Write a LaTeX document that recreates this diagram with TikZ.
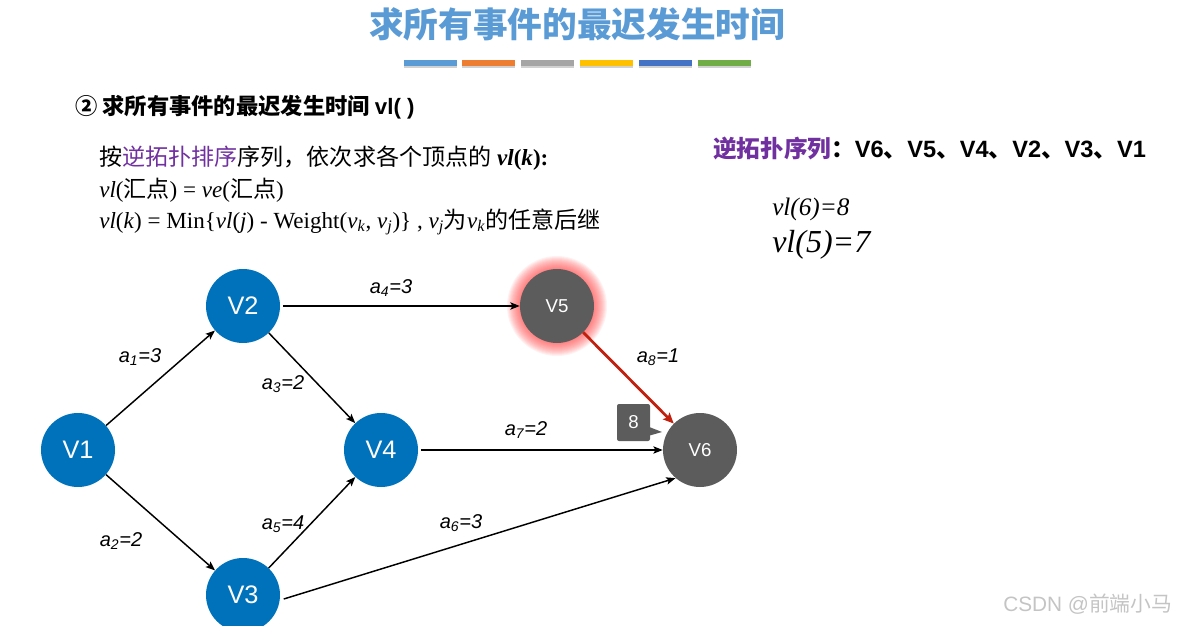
\documentclass[tikz,border=0pt]{standalone}
\usepackage{fontspec}
\setmainfont{Liberation Serif}
\setsansfont{Liberation Sans}
\newfontfamily\cjk{Noto Sans CJK SC}
\usetikzlibrary{arrows.meta}
\definecolor{titleblue}{HTML}{5B9BD5}
\definecolor{purp}{HTML}{7030A0}
\definecolor{nodeblue}{HTML}{0072BB}
\definecolor{nodegray}{HTML}{5C5C5C}
\definecolor{redarrow}{HTML}{C0200E}
\definecolor{barA}{HTML}{5B9BD5}
\definecolor{barB}{HTML}{ED7D31}
\definecolor{barC}{HTML}{A5A5A5}
\definecolor{barD}{HTML}{FFC000}
\definecolor{barE}{HTML}{4472C4}
\definecolor{barF}{HTML}{70AD47}
\definecolor{wm}{HTML}{C4C4C4}
\newcommand\zh[1]{{\cjk #1}}
\begin{document}
\begin{tikzpicture}[x=0.75pt,y=-0.75pt,
  vb/.style={circle,fill=nodeblue,text=white,minimum size=55.5pt,inner sep=0pt,font=\sffamily\fontsize{19}{19}\selectfont},
  vg/.style={circle,fill=nodegray,text=white,minimum size=55.5pt,inner sep=0pt,font=\sffamily\fontsize{14}{14}\selectfont},
  edge/.style={-{Stealth[length=7pt,width=5.5pt,inset=1.5pt]},line width=1.1pt},
  redge/.style={-{Stealth[length=8pt,width=7pt,inset=1.5pt]},line width=2.1pt,draw=redarrow},
  elabel/.style={font=\sffamily\itshape\fontsize{15}{15}\selectfont,inner sep=0pt},
  txt/.style={anchor=west,inner sep=0pt},
  bar/.style={minimum width=39.75pt,minimum height=4.5pt,inner sep=0pt},
  barshadow/.style={fill=black,opacity=0.18}
]
\useasboundingbox (0,0) rectangle (1178,625);
\clip (0,0) rectangle (1178,625);

% title
\node[text=titleblue,font=\cjk\bfseries\fontsize{26}{26}\selectfont] (title) at (577,24) {求所有事件的最迟发生时间};

% colour bars
\foreach \x/\c [count=\i] in {430.5/barA,488.5/barB,547.5/barC,606.5/barD,665.5/barE,724.5/barF}{
  \fill[barshadow] (\x-26.5,62) rectangle (\x+26.5,68);
  \node[bar,fill=\c] (bar\i) at (\x,63) {};
}

% subtitle
\node[txt,font=\cjk\bfseries\fontsize{16.7}{16.7}\selectfont] (sub) at (75,107) {② 求所有事件的最迟发生时间 {\sffamily\bfseries vl( )}};

% body text
\node[txt,font=\fontsize{17.3}{17.3}\selectfont] (b1) at (99,158) {\zh{按}{\color{purp}\zh{逆拓扑排序}}\zh{序列，依次求各个顶点的} \textbf{\textit{vl}(\textit{k}):}};
\node[txt,font=\fontsize{17.3}{17.3}\selectfont] (b2) at (99,190) {\textit{vl}(\zh{汇点}) = \textit{ve}(\zh{汇点})};
\node[txt,font=\fontsize{17.3}{17.3}\selectfont] (b3) at (99,222) {\textit{vl}(\textit{k}) = Min\{\textit{vl}(\textit{j}) - Weight(\textit{v}\textsubscript{\textit{k}}, \textit{v}\textsubscript{\textit{j}})\} , \textit{v}\textsubscript{\textit{j}}\zh{为}\textit{v}\textsubscript{\textit{k}}\zh{的任意后继}};

% right text
\node[txt,font=\fontsize{17.7}{17.7}\selectfont] (seq) at (713,148) {{\color{purp}\cjk\bfseries 逆拓扑序列}{\cjk\bfseries ：}{\sffamily\bfseries V6\zh{、}V5\zh{、}V4\zh{、}V2\zh{、}V3\zh{、}V1}};
\node[txt,font=\itshape\fontsize{18.9}{18.9}\selectfont] (vl6) at (772,209) {vl(6)=8};
\node[txt,font=\itshape\fontsize{24}{24}\selectfont] (vl5) at (772,245) {vl(5)=7};

% glow around V5
\foreach \r in {50,49,...,38}{
  \fill[red!80!white,opacity=0.065] (557,306) circle (\r*0.75pt);
}

% nodes
\node[vb] (v1) at (78,450) {V1};
\node[vb] (v2) at (243,306) {V2};
\node[vb] (v3) at (243,595) {V3};
\node[vb] (v4) at (381,450) {V4};
\node[vg] (v5) at (557,306) {V5};
\node[vg] (v6) at (700,450) {V6};

% edges
\draw[edge] (v1) -- (v2);
\draw[edge] (v1) -- (v3);
\draw[edge] (v2) -- (v4);
\draw[edge] (v3) -- (v4);
\draw[edge,shorten <=2pt] (v2) -- (v5);
\draw[edge,shorten <=2pt] (v4) -- (v6);
\draw[edge,shorten <=3pt] (v3.-8) -- (v6.229);
\draw[redge] (v5) -- (v6);

% edge labels
\node[elabel] (l1) at (140,357) {a\textsubscript{1}=3};
\node[elabel] (l2) at (121,541) {a\textsubscript{2}=2};
\node[elabel] (l3) at (283,384) {a\textsubscript{3}=2};
\node[elabel] (l4) at (391,288) {a\textsubscript{4}=3};
\node[elabel] (l5) at (283,524) {a\textsubscript{5}=4};
\node[elabel] (l6) at (461,523) {a\textsubscript{6}=3};
\node[elabel] (l7) at (526,430) {a\textsubscript{7}=2};
\node[elabel] (l8) at (658,357) {a\textsubscript{8}=1};

% callout
\node[fill=nodegray,rounded corners=1.5pt,minimum width=24.75pt,minimum height=27.75pt,inner sep=0pt,text=white,font=\sffamily\fontsize{14}{14}\selectfont] (c8) at (633.5,422.5) {8};
\fill[nodegray] (648,426.5) -- (662,432) -- (648,436) -- cycle;

% watermark
\node[txt,text=wm,font=\sffamily\fontsize{15.6}{15.6}\selectfont] (wmk) at (1003,604) {CSDN @\zh{前端小马}};
\end{tikzpicture}
\end{document}
